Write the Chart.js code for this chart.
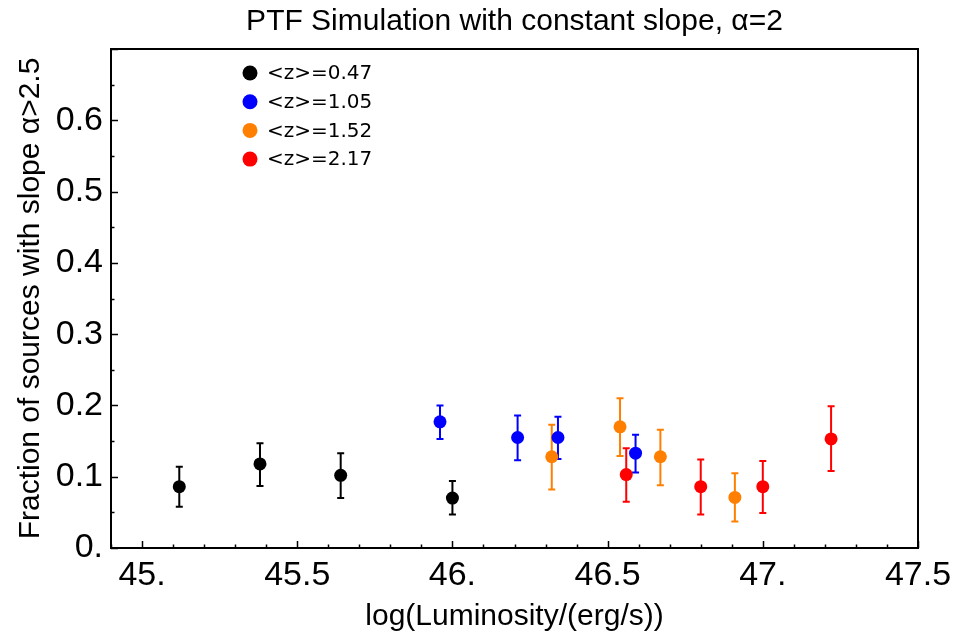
<!DOCTYPE html>
<html>
<head>
<meta charset="utf-8">
<title>PTF Simulation with constant slope</title>
<script src="https://cdn.jsdelivr.net/npm/chart.js@4/dist/chart.umd.min.js"></script>
<style>
  body { margin: 0; background: #fff; }
  #wrap { width: 970px; height: 640px; position: relative; }
</style>
</head>
<body>
<div id="wrap"><canvas id="chart"></canvas></div>
<script>
/* Redshift groups (legend labels) */
const groupLabels = ['<z>=0.47', '<z>=1.05', '<z>=1.52', '<z>=2.17'];
const groupColors = ['#000000', '#0000ff', '#ff8000', '#ff0000'];
const chartTitle = 'PTF Simulation with constant slope, α=2';

/* log(L) positions per group */
const lumZ047 = [45.12, 45.38, 45.64, 46.00];
const lumZ105 = [45.96, 46.21, 46.34, 46.59];
const lumZ152 = [46.32, 46.54, 46.67, 46.91];
const lumZ217 = [46.56, 46.80, 47.00, 47.22];

/* fraction with slope > 2.5 */
const fracZ047 = [0.086, 0.118, 0.102, 0.070];
const fracZ105 = [0.177, 0.155, 0.155, 0.133];
const fracZ152 = [0.128, 0.170, 0.128, 0.071];
const fracZ217 = [0.103, 0.086, 0.086, 0.153];

/* error bar ends (low / high) */
const lowZ047 = [0.058, 0.087, 0.070, 0.047];
const highZ047 = [0.114, 0.147, 0.133, 0.094];
const lowZ105 = [0.153, 0.123, 0.125, 0.106];
const highZ105 = [0.200, 0.186, 0.184, 0.159];
const lowZ152 = [0.082, 0.129, 0.088, 0.037];
const highZ152 = [0.173, 0.210, 0.166, 0.105];
const lowZ217 = [0.065, 0.047, 0.049, 0.108];
const highZ217 = [0.140, 0.124, 0.122, 0.199];

/* axis ranges and tick spacing */
const xMin = 44.9, xMax = 47.5, xStep = 0.1, xLabelEvery = 0.5;
const yMin = 0, yMax = 0.7, yStep = 0.05, yLabelEvery = 0.1;

const lums = [lumZ047, lumZ105, lumZ152, lumZ217];
const fracs = [fracZ047, fracZ105, fracZ152, fracZ217];
const lows = [lowZ047, lowZ105, lowZ152, lowZ217];
const highs = [highZ047, highZ105, highZ152, highZ217];

function isMultiple(v, step) {
    const r = v / step;
    return Math.abs(r - Math.round(r)) < 1e-6;
}

// Mathematica-style labels: integers get a trailing dot
function fmt(v) {
    const r = Math.round(v * 100) / 100;
    return Number.isInteger(r) ? r + '.' : String(r);
}

/* Error bars drawn under the points */
const errorBars = {
    id: 'errorBars',
    beforeDatasetsDraw(chart) {
        const ctx = chart.ctx;
        const xs = chart.scales.x, ys = chart.scales.y;
        ctx.save();
        ctx.lineWidth = 2;
        lums.forEach((lx, g) => {
            ctx.strokeStyle = groupColors[g];
            lx.forEach((x, i) => {
                const px = xs.getPixelForValue(x);
                const p1 = ys.getPixelForValue(lows[g][i]);
                const p2 = ys.getPixelForValue(highs[g][i]);
                ctx.beginPath();
                ctx.moveTo(px, p1); ctx.lineTo(px, p2);
                ctx.moveTo(px - 3.5, p1); ctx.lineTo(px + 3.5, p1);
                ctx.moveTo(px - 3.5, p2); ctx.lineTo(px + 3.5, p2);
                ctx.stroke();
            });
        });
        ctx.restore();
    }
};

/* Frame, inward ticks and the title centred over the plot */
const frame = {
    id: 'frame',
    afterDraw(chart) {
        const ctx = chart.ctx;
        const a = chart.chartArea;
        const xs = chart.scales.x, ys = chart.scales.y;
        ctx.save();
        ctx.strokeStyle = '#000';
        ctx.lineWidth = 1.5;
        xs.ticks.forEach(t => {
            const px = Math.round(xs.getPixelForValue(t.value)) + 0.5;
            const len = isMultiple(t.value, xLabelEvery) ? 7 : 3.5;
            ctx.beginPath();
            ctx.moveTo(px, a.bottom); ctx.lineTo(px, a.bottom - len);
            ctx.stroke();
        });
        ys.ticks.forEach(t => {
            const py = Math.round(ys.getPixelForValue(t.value)) + 0.5;
            const len = isMultiple(t.value, yLabelEvery) ? 7 : 3.5;
            ctx.beginPath();
            ctx.moveTo(a.left, py); ctx.lineTo(a.left + len, py);
            ctx.stroke();
        });
        ctx.lineWidth = 2;
        ctx.strokeRect(a.left, a.top, a.right - a.left, a.bottom - a.top);

        ctx.fillStyle = '#000';
        ctx.font = '30px "Liberation Sans"';
        ctx.textAlign = 'center';
        ctx.textBaseline = 'middle';
        ctx.fillText(chartTitle, (a.left + a.right) / 2, 22);
        ctx.restore();
    }
};

/* Legend inside the plot, top-left */
const insideLegend = {
    id: 'insideLegend',
    afterDraw(chart) {
        const ctx = chart.ctx;
        const a = chart.chartArea;
        ctx.save();
        ctx.font = '20px "DejaVu Sans"';
        ctx.textBaseline = 'middle';
        groupLabels.forEach((label, g) => {
            const cy = a.top + 24 + g * 28.7;
            const cx = a.left + 139;
            ctx.fillStyle = groupColors[g];
            ctx.beginPath();
            ctx.arc(cx, cy, 7.5, 0, Math.PI * 2);
            ctx.fill();
            ctx.fillStyle = '#000';
            ctx.fillText(label, cx + 17, cy + 1);
        });
        ctx.restore();
    }
};

function buildDatasets() {
    return groupLabels.map((label, g) => ({
        label,
        data: lums[g].map((x, i) => ({ x, y: fracs[g][i] })),
        backgroundColor: groupColors[g],
        borderColor: groupColors[g],
        pointRadius: 6.5,
        pointHoverRadius: 6.5,
        borderWidth: 0,
        showLine: false
    }));
}

function init() {
    const ctx = document.getElementById('chart').getContext('2d');
    new Chart(ctx, {
        type: 'scatter',
        data: { datasets: buildDatasets() },
        options: {
            responsive: true,
            maintainAspectRatio: false,
            animation: false,
            layout: { padding: { left: 0, right: 52, top: 49, bottom: 0 } },
            plugins: {
                legend: { display: false },
                tooltip: { enabled: false },
                title: { display: false }
            },
            scales: {
                x: {
                    type: 'linear',
                    min: xMin,
                    max: xMax,
                    afterFit(scale) { scale.height = 92; },
                    grid: { display: false, drawTicks: false },
                    border: { display: false },
                    ticks: {
                        stepSize: xStep,
                        autoSkip: false,
                        maxRotation: 0,
                        padding: 7,
                        color: '#000',
                        font: { family: '"Liberation Sans"', size: 34 },
                        callback: v => isMultiple(v, xLabelEvery) ? fmt(v) : ''
                    },
                    title: {
                        display: true,
                        text: 'log(Luminosity/(erg/s))',
                        color: '#000',
                        font: { family: '"Liberation Sans"', size: 30 },
                        padding: { top: 4, bottom: 5 }
                    }
                },
                y: {
                    type: 'linear',
                    min: yMin,
                    max: yMax,
                    afterFit(scale) { scale.width = 111; },
                    grid: { display: false, drawTicks: false },
                    border: { display: false },
                    ticks: {
                        stepSize: yStep,
                        autoSkip: false,
                        padding: 8,
                        color: '#000',
                        font: { family: '"Liberation Sans"', size: 34 },
                        callback: v => (isMultiple(v, yLabelEvery) && v < yMax - 1e-6) ? fmt(v) : ''
                    },
                    title: {
                        display: true,
                        text: 'Fraction of sources with slope α>2.5',
                        color: '#000',
                        font: { family: '"Liberation Sans"', size: 30 },
                        padding: { top: 13, bottom: 0 }
                    }
                }
            }
        },
        plugins: [errorBars, frame, insideLegend]
    });
}

window.addEventListener('load', init);
</script>
</body>
</html>
